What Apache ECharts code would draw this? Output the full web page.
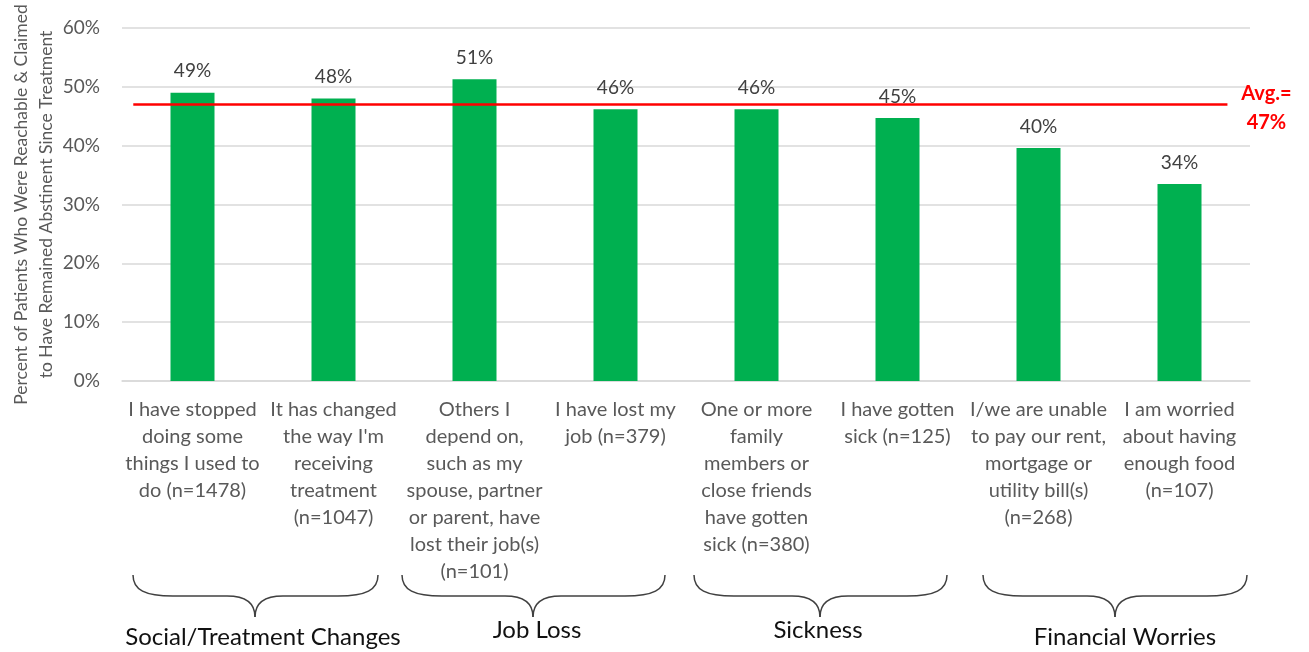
<!DOCTYPE html>
<html>
<head>
<meta charset="utf-8">
<script src="https://cdn.jsdelivr.net/npm/echarts@6/dist/echarts.min.js"></script>
<style>
  html, body { margin: 0; padding: 0; background: #fff; }
  #chart { width: 1309px; height: 652px; }
</style>
</head>
<body>
<div id="chart"></div>
<script>
  var categories = [
    'I have stopped\ndoing some\nthings I used to\ndo (n=1478)',
    'It has changed\nthe way I\'m\nreceiving\ntreatment\n(n=1047)',
    'Others I\ndepend on,\nsuch as my\nspouse, partner\nor parent, have\nlost their job(s)\n(n=101)',
    'I have lost my\njob (n=379)',
    'One or more\nfamily\nmembers or\nclose friends\nhave gotten\nsick (n=380)',
    'I have gotten\nsick (n=125)',
    'I/we are unable\nto pay our rent,\nmortgage or\nutility bill(s)\n(n=268)',
    'I am worried\nabout having\nenough food\n(n=107)'
  ];
  var abstinentPct = [49.0, 48.0, 51.3, 46.2, 46.2, 44.7, 39.6, 33.5];
  var averagePct = 47;
  var groupNames = ['Social/Treatment Changes', 'Job Loss', 'Sickness', 'Financial Worries'];

  // decoration layout (pixels): brace left, right, tip x; label x, y
  var braceLayout = [
    [133, 378, 255, 263, 637],
    [402, 665, 533, 537, 630],
    [694, 947, 820, 818, 630],
    [983, 1247, 1115, 1125, 637]
  ];

  var font = 'Lato';
  var chart = echarts.init(document.getElementById('chart'));

  var braceStyle = { fill: null, stroke: '#404040', lineWidth: 1.5 };
  function curve(x1, y1, c1x, c1y, c2x, c2y, x2, y2) {
    return {
      type: 'bezierCurve', silent: true, style: braceStyle,
      shape: { x1: x1, y1: y1, cpx1: c1x, cpy1: c1y, cpx2: c2x, cpy2: c2y, x2: x2, y2: y2 }
    };
  }
  function line(x1, y1, x2, y2) {
    return {
      type: 'line', silent: true, style: braceStyle,
      shape: { x1: x1, y1: y1, x2: x2, y2: y2 }
    };
  }

  var graphic = [];
  braceLayout.forEach(function (b, i) {
    var x0 = b[0], x1 = b[1], xm = b[2];
    var yt = 575, yh = 596, yp = 617;
    graphic.push(curve(x0, yt, x0, yh - 6, x0 + 12, yh, x0 + 40, yh));
    graphic.push(line(x0 + 40, yh, xm - 28, yh));
    graphic.push(curve(xm - 28, yh, xm - 10, yh, xm, yh + 6, xm, yp));
    graphic.push(curve(xm, yp, xm, yh + 6, xm + 10, yh, xm + 28, yh));
    graphic.push(line(xm + 28, yh, x1 - 40, yh));
    graphic.push(curve(x1 - 40, yh, x1 - 12, yh, x1, yh - 6, x1, yt));
    graphic.push({
      type: 'text',
      x: b[3],
      y: b[4],
      style: {
        text: groupNames[i],
        fontFamily: font,
        fontSize: 24,
        fill: '#111',
        align: 'center',
        verticalAlign: 'middle'
      },
      silent: true
    });
  });

  chart.setOption({
    animation: false,
    grid: { left: 122, right: 59, top: 28, bottom: 271, outerBoundsMode: 'none', containLabel: false },
    xAxis: [{
      type: 'category',
      data: categories,
      axisLine: { show: true, lineStyle: { color: '#d9d9d9', width: 1.5 } },
      axisTick: { show: false },
      axisLabel: {
        interval: 0,
        margin: 15,
        color: '#595959',
        fontFamily: font,
        fontSize: 20,
        lineHeight: 27
      }
    }, {
      type: 'value',
      min: 0,
      max: categories.length,
      show: false
    }],
    yAxis: {
      type: 'value',
      min: 0,
      max: 60,
      interval: 10,
      name: 'Percent of Patients Who Were Reachable & Claimed\nto Have Remained Abstinent Since Treatment',
      nameLocation: 'middle',
      nameGap: 63,
      nameMoveOverlap: false,
      nameTextStyle: {
        color: '#595959',
        fontFamily: font,
        fontSize: 17.5,
        lineHeight: 25
      },
      axisLabel: {
        formatter: '{value}%',
        color: '#595959',
        fontFamily: font,
        fontSize: 19,
        margin: 22
      },
      axisLine: { show: false },
      axisTick: { show: false },
      splitLine: { lineStyle: { color: '#d9d9d9', width: 1.5 } }
    },
    series: [{
      type: 'bar',
      data: abstinentPct,
      barWidth: 44,
      itemStyle: { color: '#00B050' },
      label: {
        show: true,
        position: 'top',
        distance: 12,
        color: '#404040',
        fontFamily: font,
        fontSize: 19,
        formatter: function (p) { return Math.round(p.value) + '%'; }
      },
      silent: true
    }, {
      type: 'line',
      xAxisIndex: 1,
      data: [
        [0.08, averagePct],
        {
          value: [7.84, averagePct],
          label: {
            show: true,
            position: 'right',
            distance: 39,
            align: 'center',
            offset: [0, 4],
            formatter: 'Avg.=\n' + averagePct + '%',
            color: '#FF0000',
            fontWeight: 'bold',
            fontFamily: font,
            fontSize: 20,
            lineHeight: 29
          }
        }
      ],
      symbol: 'circle',
      symbolSize: 0,
      showSymbol: true,
      lineStyle: { color: '#FF0000', width: 2.5 },
      silent: true,
      z: 5
    }],
    graphic: graphic
  });
</script>
</body>
</html>
